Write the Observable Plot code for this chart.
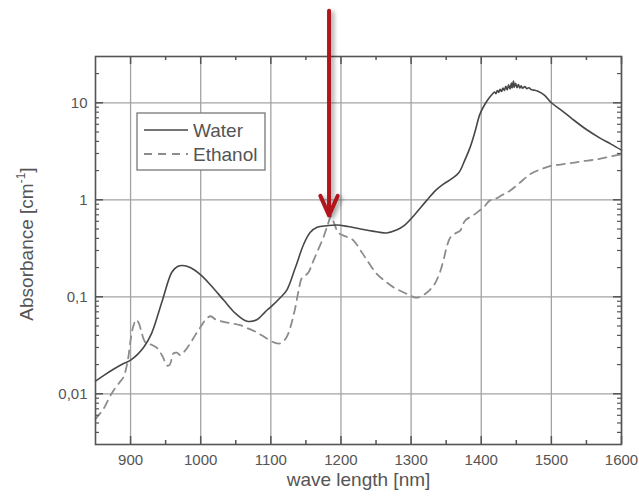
<!DOCTYPE html>
<html><head><meta charset="utf-8">
<script src="https://cdn.jsdelivr.net/npm/d3@7"></script>
<script src="https://cdn.jsdelivr.net/npm/@observablehq/plot@0.6"></script>
<style>
body{margin:0;background:#fff;}
#chart{width:639px;height:500px;}
</style></head><body><div id="chart"></div>
<script>
const seriesNames = ["Water", "Ethanol"];
const waterWavelength = [850, 862, 875, 890, 900, 910, 919, 930, 945, 959, 967, 974, 985, 1000, 1015, 1033, 1050, 1066, 1080, 1092, 1102, 1113, 1123, 1135, 1147, 1156, 1166, 1180, 1194, 1210, 1228, 1245, 1265, 1280, 1290, 1305, 1322, 1335, 1346, 1358, 1368, 1376, 1384, 1391, 1398, 1405, 1412,
  1416, 1419, 1421, 1423, 1425, 1427, 1429, 1431, 1433, 1435, 1437, 1439, 1441, 1443, 1444, 1446, 1447, 1449, 1451, 1453, 1455, 1457, 1459, 1462, 1465, 1468, 1471, 1475,
  1480, 1490, 1500, 1515, 1530, 1550, 1570, 1585, 1600];
const waterAbsorbance = [0.0135, 0.0155, 0.0178, 0.0205, 0.0222, 0.0255, 0.0303, 0.042, 0.09, 0.18, 0.205, 0.21, 0.2, 0.168, 0.13, 0.092, 0.067, 0.056, 0.058, 0.07, 0.081, 0.097, 0.118, 0.2, 0.35, 0.46, 0.52, 0.54, 0.55, 0.53, 0.5, 0.475, 0.455, 0.49, 0.54, 0.7, 0.98, 1.25, 1.45, 1.65, 1.9, 2.5, 3.45, 5.0, 7.6, 9.6, 11.4,
  12.3, 12.9, 12.4, 13.4, 12.8, 13.8, 13.1, 14.2, 13.4, 14.8, 13.6, 15.3, 13.9, 16.0, 14.2, 16.8, 14.4, 15.9, 14.3, 15.4, 14.2, 15.0, 14.1, 14.7, 14.0, 14.3, 13.7, 13.5,
  13.2, 12.0, 10.0, 8.3, 6.8, 5.3, 4.3, 3.75, 3.25];
const ethanolWavelength = [850, 856, 862, 870, 876, 884, 890, 896, 900, 904, 908, 912, 916, 921, 930, 938, 946, 952, 956, 961, 966, 971, 978, 985, 993, 1000, 1007, 1014, 1022, 1033, 1045, 1056, 1068, 1080, 1092, 1104, 1113, 1120, 1125, 1130, 1135, 1140, 1144, 1149, 1154, 1159, 1167, 1175, 1181, 1186, 1190, 1196, 1203, 1210, 1218, 1228, 1237, 1251, 1263, 1275, 1288, 1299, 1306, 1312, 1320, 1332, 1340, 1346, 1351, 1356, 1363, 1370, 1374, 1378, 1385, 1392, 1398, 1405, 1412, 1420, 1430, 1441, 1455, 1470, 1484, 1498, 1515, 1530, 1545, 1560, 1575, 1590, 1600];
const ethanolAbsorbance = [0.0055, 0.0062, 0.0071, 0.0092, 0.0109, 0.013, 0.0149, 0.022, 0.0356, 0.05, 0.058, 0.053, 0.042, 0.034, 0.032, 0.0295, 0.024, 0.0195, 0.02, 0.026, 0.0265, 0.025, 0.028, 0.033, 0.041, 0.049, 0.058, 0.063, 0.058, 0.055, 0.053, 0.051, 0.047, 0.043, 0.038, 0.034, 0.033, 0.036, 0.042, 0.055, 0.078, 0.12, 0.155, 0.165, 0.18, 0.22, 0.3, 0.41, 0.55, 0.68, 0.58, 0.46, 0.43, 0.41, 0.38, 0.3, 0.24, 0.172, 0.145, 0.125, 0.112, 0.103, 0.098, 0.099, 0.107, 0.13, 0.17, 0.236, 0.33, 0.41, 0.45, 0.48, 0.56, 0.62, 0.67, 0.72, 0.78, 0.86, 0.98, 1.02, 1.12, 1.24, 1.5, 1.84, 2.05, 2.22, 2.32, 2.4, 2.5, 2.58, 2.7, 2.85, 2.95];
const xTickValues = [900, 1000, 1100, 1200, 1300, 1400, 1500, 1600];
const xTickLabels = ["900", "1000", "1100", "1200", "1300", "1400", "1500", "1600"];
const xMinorTicks = [950, 1050, 1150, 1250, 1350, 1450, 1550];
const yTickValues = [0.01, 0.1, 1, 10];
const yTickLabels = ["0,01", "0,1", "1", "10"];
const yMinorTicks = [0.004, 0.005, 0.006, 0.007, 0.008, 0.009, 0.02, 0.03, 0.04, 0.05, 0.06, 0.07, 0.08, 0.09, 0.2, 0.3, 0.4, 0.5, 0.6, 0.7, 0.8, 0.9, 2, 3, 4, 5, 6, 7, 8, 9, 20];
const xLabel = "wave length [nm]";
const arrowAnnotation = [{wavelength: 1183, top: 89, tip: 0.69}];

const water = waterWavelength.map((w, i) => ({wavelength: w, absorbance: waterAbsorbance[i]}));
const ethanol = ethanolWavelength.map((w, i) => ({wavelength: w, absorbance: ethanolAbsorbance[i]}));

const W = 639, H = 500, mL = 95, mR = 18, mT = 56, mB = 56;
const innerW = W - mL - mR, innerH = H - mT - mB;
const axisColor = "#555";
const gridColor = "#a3a3a3";

const chart = Plot.plot({
  width: W, height: H,
  marginLeft: mL, marginRight: mR, marginTop: mT, marginBottom: mB,
  style: {fontFamily: "'Liberation Sans', Arial, sans-serif", fontSize: "15px", color: axisColor, background: "white"},
  x: {domain: [850, 1600]},
  y: {type: "log", domain: [0.003, 30]},
  marks: [
    Plot.gridX(xTickValues, {stroke: gridColor, strokeOpacity: 1, strokeWidth: 1.3}),
    Plot.gridY(yTickValues, {stroke: gridColor, strokeOpacity: 1, strokeWidth: 1.3}),
    Plot.line(ethanol, {x: "wavelength", y: "absorbance", stroke: "#8c8c8c", strokeWidth: 1.8, strokeDasharray: "8,6", curve: "catmull-rom"}),
    Plot.line(water, {x: "wavelength", y: "absorbance", stroke: "#474747", strokeWidth: 1.6, curve: "catmull-rom"}),
    // inward ticks
    Plot.ruleX(xTickValues, {x: d => d, insetTop: innerH - 8, stroke: axisColor, strokeWidth: 1.5}),
    Plot.ruleX(xTickValues, {x: d => d, insetBottom: innerH - 8, stroke: axisColor, strokeWidth: 1.5}),
    Plot.ruleX(xMinorTicks, {x: d => d, insetTop: innerH - 4, stroke: axisColor, strokeWidth: 1.5}),
    Plot.ruleX(xMinorTicks, {x: d => d, insetBottom: innerH - 4, stroke: axisColor, strokeWidth: 1.5}),
    Plot.ruleY(yTickValues, {y: d => d, insetRight: innerW - 8, stroke: axisColor, strokeWidth: 1.5}),
    Plot.ruleY(yTickValues, {y: d => d, insetLeft: innerW - 8, stroke: axisColor, strokeWidth: 1.5}),
    Plot.ruleY(yMinorTicks, {y: d => d, insetRight: innerW - 4, stroke: axisColor, strokeWidth: 1.2}),
    Plot.ruleY(yMinorTicks, {y: d => d, insetLeft: innerW - 4, stroke: axisColor, strokeWidth: 1.2}),
    Plot.axisX(xTickValues, {tickSize: 0, tickPadding: 10, label: null, fontSize: 15, fill: axisColor,
      tickFormat: d => xTickLabels[xTickValues.indexOf(d)]}),
    Plot.axisY(yTickValues, {tickSize: 0, tickPadding: 8, label: null, fontSize: 15, fill: axisColor,
      tickFormat: d => yTickLabels[yTickValues.indexOf(d)]}),
    Plot.text([xLabel], {frameAnchor: "bottom", dy: 41, fontSize: 19, fill: axisColor}),
    Plot.frame({stroke: axisColor, strokeWidth: 1.6}),
    Plot.arrow(arrowAnnotation, {x1: "wavelength", x2: "wavelength", y1: "top", y2: "tip",
      stroke: "#b3141b", strokeWidth: 4, headLength: 8, headAngle: 48})
  ]
});
document.getElementById("chart").appendChild(chart);

const svg = d3.select(chart);
svg.selectAll('g[aria-label="arrow"]').style("filter", "drop-shadow(3px 2px 2px rgba(0,0,0,0.35))");

// y-axis title with superscript
const yt = svg.append("text")
  .attr("transform", `translate(33,${mT + innerH / 2 - 6}) rotate(-90)`)
  .attr("text-anchor", "middle")
  .attr("fill", axisColor)
  .attr("font-family", "'Liberation Sans', Arial, sans-serif")
  .attr("font-size", 19);
yt.append("tspan").text("Absorbance [cm");
yt.append("tspan").attr("font-size", 12).attr("dy", -8).text("-1");
yt.append("tspan").attr("dy", 8).text("]");

// legend box
const lg = svg.append("g").attr("font-family", "'Liberation Sans', Arial, sans-serif").attr("font-size", 19)
  .attr("fill", axisColor).attr("text-anchor", "start");
lg.append("rect").attr("x", 137).attr("y", 113).attr("width", 128).attr("height", 57)
  .attr("fill", "white").attr("stroke", "#777").attr("stroke-width", 1.3);
const legendStyles = [
  {stroke: "#474747", dash: null, width: 1.6},
  {stroke: "#8c8c8c", dash: "8,6", width: 1.8}
];
seriesNames.forEach((name, i) => {
  const cy = 130 + i * 24;
  lg.append("line").attr("x1", 144).attr("x2", 188).attr("y1", cy).attr("y2", cy)
    .attr("stroke", legendStyles[i].stroke).attr("stroke-width", legendStyles[i].width)
    .attr("stroke-dasharray", legendStyles[i].dash);
  lg.append("text").attr("x", 193).attr("y", cy).attr("dy", "0.35em").attr("text-anchor", "start").text(name);
});
</script>
</body></html>
